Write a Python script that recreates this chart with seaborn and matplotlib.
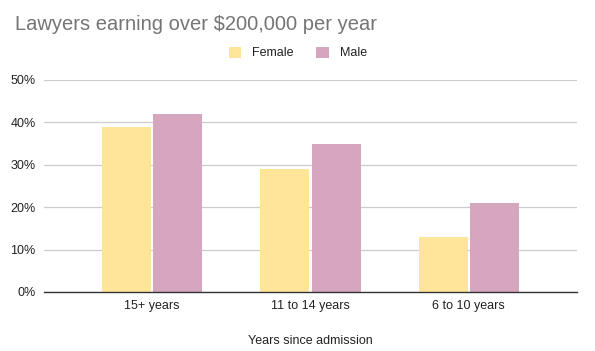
import matplotlib
matplotlib.use("Agg")
import matplotlib.pyplot as plt
import seaborn as sns
import pandas as pd
from matplotlib.ticker import FuncFormatter, MultipleLocator
from matplotlib.patches import Patch

categories = ["15+ years", "11 to 14 years", "6 to 10 years"]
female = [39, 29, 13]
male = [42, 35, 21]
series_names = ["Female", "Male"]
colors = ["#FFE599", "#D5A6BD"]

rows = []
for c, f, m in zip(categories, female, male):
    rows.append({"cat": c, "sex": "Female", "val": f})
    rows.append({"cat": c, "sex": "Male", "val": m})
df = pd.DataFrame(rows)

sns.set_style("white")
plt.rcParams["font.family"] = ["Liberation Sans", "DejaVu Sans"]

fig = plt.figure(figsize=(5.95, 3.51), dpi=100)
ax = fig.add_axes([44/595, (351-292)/351, (577-44)/595, (292-80)/351])

sns.barplot(data=df, x="cat", y="val", hue="sex", order=categories,
            hue_order=series_names, palette=colors, width=0.646, gap=0.04,
            saturation=1, ax=ax, legend=False, edgecolor="none", linewidth=0)

ax.set_xlim(-0.684, 2.684)
ax.set_ylim(0, 50)
ax.yaxis.set_major_locator(MultipleLocator(10))
ax.yaxis.set_major_formatter(FuncFormatter(lambda v, p: f"{int(v)}%"))
ax.grid(axis="y", color="#CCCCCC", linewidth=0.9)
ax.set_axisbelow(True)
for s in ["top", "right", "left"]:
    ax.spines[s].set_visible(False)
ax.spines["bottom"].set_color("#333333")
ax.spines["bottom"].set_linewidth(1.0)
ax.spines["bottom"].set_zorder(5)
ax.tick_params(axis="both", length=0, labelsize=9, colors="#222222")
ax.tick_params(axis="y", pad=6)
ax.tick_params(axis="x", pad=6)
ax.set_ylabel("")
ax.set_xlabel("Years since admission", fontsize=9, color="#222222", labelpad=16)

fig.text(15/595, 1 - 25/351, "Lawyers earning over $200,000 per year",
         fontsize=14.5, color="#757575", va="center", ha="left")

handles = [Patch(facecolor=c, edgecolor="none") for c in colors]
fig.legend(handles, series_names, loc="center", bbox_to_anchor=(298/595, 1 - 53/351),
           ncol=2, frameon=False, fontsize=9, handlelength=1.0, handleheight=1.0,
           columnspacing=1.8, handletextpad=0.9, labelcolor="#222222")

fig.savefig("out.png", dpi=100)
